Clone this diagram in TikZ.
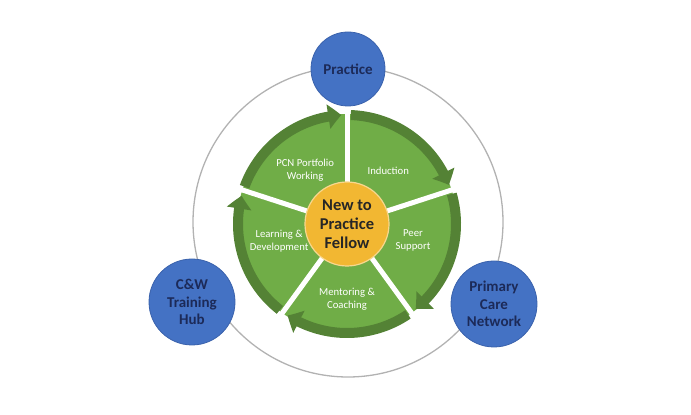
\documentclass[tikz,border=0pt]{standalone}
\usepackage{fontspec}
\setmainfont{Carlito}
\usetikzlibrary{arrows.meta,bending,positioning}
\definecolor{hubblue}{RGB}{68,114,196}
\definecolor{hubedge}{RGB}{58,98,172}
\definecolor{navytext}{RGB}{28,42,88}
\definecolor{leafgreen}{RGB}{112,173,71}
\definecolor{darkgreen}{RGB}{84,130,53}
\definecolor{fellowgold}{RGB}{242,183,50}
\definecolor{ringgrey}{RGB}{178,178,178}
\tikzset{
  partner/.style={circle, fill=hubblue, draw=hubedge, line width=0.8pt, text=navytext, align=center, inner sep=0pt, font=\fontsize{15}{17.5}\selectfont\bfseries},
  segtext/.style={text=white, align=center, font=\fontsize{10.7}{13}\selectfont},
  cyclearrow/.style={draw=darkgreen, line width=10pt, -{Triangle[width=24pt,length=13pt,bend]}},
  gapline/.style={draw=white, line width=5pt},
  fellow/.style={circle, fill=fellowgold, draw=fellowgold!55!white, line width=1.2pt, minimum size=84pt, inner sep=0pt, align=center, text=black!85, font=\fontsize{16.5}{19}\selectfont\bfseries}
}

\begin{document}
\begin{tikzpicture}[x=1pt, y=1pt]
  \useasboundingbox (0,0) rectangle (691,415);
  \coordinate (hub) at (347,191);
  \coordinate (ring) at (348,193);

  % grey ring behind everything
  \draw[ringgrey, line width=1.3pt] (ring) circle[radius=155pt];

  % green wheel
  \fill[leafgreen] (hub) circle[radius=110pt];
  \draw[cyclearrow] ([shift={(88:109pt)}]hub) arc (88:21:109pt);
  \draw[cyclearrow] ([shift={(16:109pt)}]hub) arc (16:-51:109pt);
  \draw[cyclearrow] ([shift={(-56:109pt)}]hub) arc (-56:-123:109pt);
  \draw[cyclearrow] ([shift={(-128:109pt)}]hub) arc (-128:-195:109pt);
  \draw[cyclearrow] ([shift={(160:109pt)}]hub) arc (160:93:109pt);

  % white gaps between the segments
  \draw[gapline] (hub) -- ++(90:123pt);
  \draw[gapline] (hub) -- ++(18:123pt);
  \draw[gapline] (hub) -- ++(-54:123pt);
  \draw[gapline] (hub) -- ++(-126:123pt);
  \draw[gapline] (hub) -- ++(162:123pt);

  \node[segtext] (induction) at ([shift={(52:67pt)}]hub) {Induction};
  \node[segtext] (peer) at ([shift={(-14:68pt)}]hub) {Peer\\Support};
  \node[segtext] (mentoring) at ([shift={(-90:75pt)}]hub) {Mentoring \&\\Coaching};
  \node[segtext] (learning) at ([shift={(-166:70pt)}]hub) {Learning \&\\Development};
  \node[segtext] (portfolio) at ([shift={(128:68pt)}]hub) {PCN Portfolio\\Working};

  \node[fellow] (fellow) at (hub) {New to\\Practice\\Fellow};

  % partners on the ring
  \node[partner, minimum size=74pt] (practice) at (348,346) {Practice};
  \node[partner, minimum size=86pt] (training) at (192,113) {C\&W\\Training\\Hub};
  \node[partner, minimum size=86pt] (network) at (494,111) {Primary\\Care\\Network};
\end{tikzpicture}
\end{document}
